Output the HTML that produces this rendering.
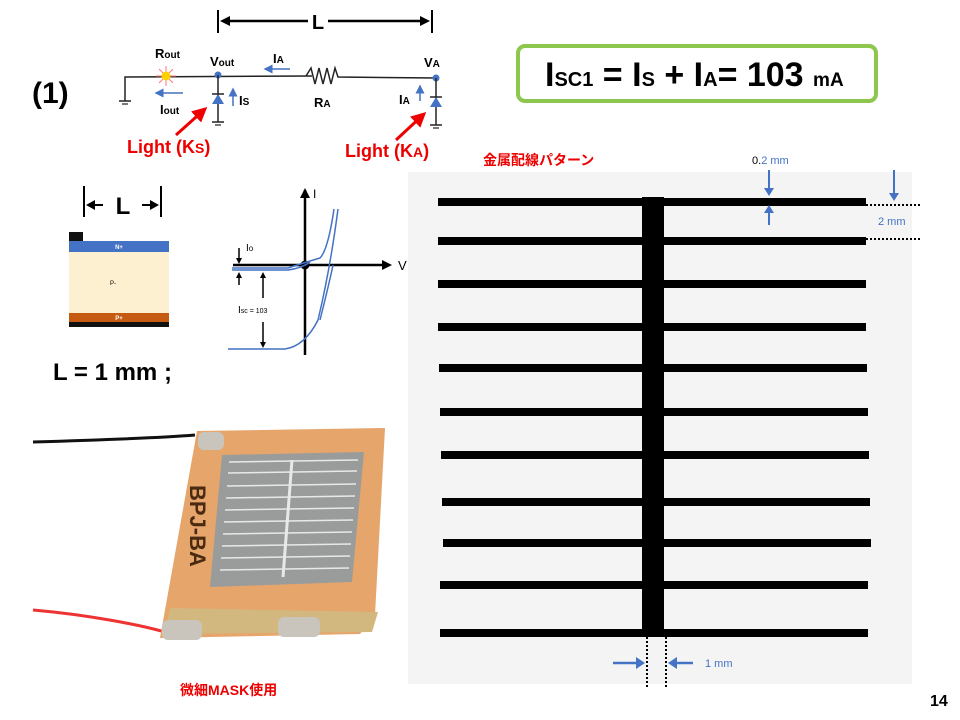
<!DOCTYPE html>
<html><head><meta charset="utf-8"><style>
html,body{margin:0;padding:0;background:#fff;}
svg{display:block;font-family:"Liberation Sans","Noto Sans CJK JP",sans-serif;}
</style></head><body>
<svg width="960" height="720" viewBox="0 0 960 720" xmlns="http://www.w3.org/2000/svg">
<defs>
<marker id="ab" markerWidth="6" markerHeight="6" refX="5" refY="3" orient="auto"><path d="M0,0 L6,3 L0,6 z" fill="#4472c4"/></marker>
<marker id="ar" markerWidth="5" markerHeight="5" refX="4" refY="2.5" orient="auto"><path d="M0,0 L5,2.5 L0,5 z" fill="#e00"/></marker>
</defs>
<!-- top L dimension -->
<line x1="218" y1="10" x2="218" y2="33" stroke="#000" stroke-width="2"/>
<line x1="432" y1="10" x2="432" y2="33" stroke="#000" stroke-width="2"/>
<line x1="226" y1="21" x2="308" y2="21" stroke="#000" stroke-width="2.5"/>
<path d="M220,21 l10,-5 v10z" fill="#000"/>
<line x1="328" y1="21" x2="425" y2="21" stroke="#000" stroke-width="2.5"/>
<path d="M430,21 l-10,-5 v10z" fill="#000"/>
<text x="318" y="29" font-size="20" font-weight="bold" text-anchor="middle">L</text>
<text x="32" y="103" font-size="30" font-weight="bold">(1)</text>
<!-- circuit -->
<polyline points="125,101 125,77 312,76" fill="none" stroke="#222" stroke-width="1.5"/>
<line x1="119" y1="101" x2="131" y2="101" stroke="#222" stroke-width="1.5"/>
<line x1="122" y1="104" x2="128" y2="104" stroke="#222" stroke-width="1.2"/>
<g stroke="#f77" stroke-width="1"><line x1="156" y1="76" x2="176" y2="76"/><line x1="166" y1="66" x2="166" y2="86"/><line x1="159" y1="69" x2="173" y2="83"/><line x1="173" y1="69" x2="159" y2="83"/></g>
<circle cx="166" cy="76" r="4.5" fill="#ffd000"/>
<text x="155" y="58" font-size="13" font-weight="bold">R<tspan font-size="10">out</tspan></text>
<text x="210" y="66" font-size="13" font-weight="bold">V<tspan font-size="10">out</tspan></text>
<circle cx="218" cy="75" r="3.5" fill="#4472c4"/>
<line x1="218" y1="75" x2="218" y2="122" stroke="#222" stroke-width="1.5"/>
<path d="M212,104 l6,-10 l6,10z" fill="#4472c4"/><line x1="212" y1="94" x2="224" y2="94" stroke="#222" stroke-width="1.5"/>
<line x1="212" y1="122" x2="224" y2="122" stroke="#222" stroke-width="1.5"/><line x1="215" y1="125" x2="221" y2="125" stroke="#222" stroke-width="1.2"/>
<line x1="183" y1="93" x2="156" y2="93" stroke="#4472c4" stroke-width="1.5" marker-end="url(#ab)"/>
<text x="160" y="114" font-size="13" font-weight="bold">I<tspan font-size="10">out</tspan></text>
<line x1="233" y1="106" x2="233" y2="89" stroke="#4472c4" stroke-width="1.5" marker-end="url(#ab)"/>
<text x="239" y="105" font-size="13" font-weight="bold">I<tspan font-size="10">S</tspan></text>
<line x1="290" y1="69" x2="265" y2="69" stroke="#4472c4" stroke-width="1.5" marker-end="url(#ab)"/>
<text x="273" y="63" font-size="13" font-weight="bold">I<tspan font-size="10">A</tspan></text>
<polyline points="306,76 311,68 315,84 319,68 323,84 327,68 331,84 335,68 338,77 436,78" fill="none" stroke="#222" stroke-width="1.5"/>
<text x="314" y="107" font-size="13" font-weight="bold">R<tspan font-size="10">A</tspan></text>
<text x="424" y="67" font-size="13" font-weight="bold">V<tspan font-size="10">A</tspan></text>
<circle cx="436" cy="78" r="3.5" fill="#4472c4"/>
<line x1="436" y1="78" x2="436" y2="125" stroke="#222" stroke-width="1.5"/>
<path d="M430,107 l6,-10 l6,10z" fill="#4472c4"/><line x1="430" y1="97" x2="442" y2="97" stroke="#222" stroke-width="1.5"/>
<line x1="430" y1="125" x2="442" y2="125" stroke="#222" stroke-width="1.5"/><line x1="433" y1="128" x2="439" y2="128" stroke="#222" stroke-width="1.2"/>
<line x1="420" y1="101" x2="420" y2="86" stroke="#4472c4" stroke-width="1.5" marker-end="url(#ab)"/>
<text x="399" y="104" font-size="13" font-weight="bold">I<tspan font-size="10">A</tspan></text>
<line x1="176" y1="135" x2="205" y2="109" stroke="#e00" stroke-width="3" marker-end="url(#ar)"/>
<line x1="396" y1="140" x2="424" y2="114" stroke="#e00" stroke-width="3" marker-end="url(#ar)"/>
<text x="127" y="153" font-size="18" font-weight="bold" fill="#e00">Light (K<tspan font-size="14">S</tspan>)</text>
<text x="345" y="157" font-size="18" font-weight="bold" fill="#e00">Light (K<tspan font-size="14">A</tspan>)</text>
<!-- equation box -->
<rect x="518" y="46" width="358" height="55" rx="7" fill="#fff" stroke="#8dc750" stroke-width="4"/>
<text x="545" y="86" font-size="34" font-weight="bold">I<tspan font-size="20">SC1</tspan> = I<tspan font-size="20">S</tspan> + I<tspan font-size="20">A</tspan>= 103 <tspan font-size="19">mA</tspan></text>
<!-- L cell -->
<line x1="84" y1="186" x2="84" y2="217" stroke="#000" stroke-width="2"/>
<line x1="161" y1="186" x2="161" y2="217" stroke="#000" stroke-width="2"/>
<path d="M86,205 l9,-5 v10z M159,205 l-9,-5 v10z" fill="#000"/>
<line x1="93" y1="205" x2="103" y2="205" stroke="#000" stroke-width="2"/>
<line x1="142" y1="205" x2="152" y2="205" stroke="#000" stroke-width="2"/>
<text x="123" y="214" font-size="24" font-weight="bold" text-anchor="middle">L</text>
<rect x="69" y="232" width="14" height="10" fill="#111"/>
<rect x="69" y="241" width="100" height="11" fill="#4472c4"/>
<rect x="69" y="252" width="100" height="61" fill="#fdf0d0"/>
<rect x="69" y="313" width="100" height="9" fill="#c55a11"/>
<rect x="69" y="322" width="100" height="5" fill="#111"/>
<text x="119" y="249" font-size="6" fill="#fff" text-anchor="middle" font-weight="bold">N+</text>
<text x="113" y="285" font-size="6" text-anchor="middle">P-</text>
<text x="119" y="320" font-size="6" fill="#fff" text-anchor="middle" font-weight="bold">P+</text>
<text x="53" y="380" font-size="24" font-weight="bold">L = 1 mm ;</text>
<!-- IV -->
<line x1="305" y1="355" x2="305" y2="190" stroke="#000" stroke-width="2.5"/>
<path d="M305,188 l-5,10 h10z" fill="#000"/>
<text x="313" y="198" font-size="12">I</text>
<line x1="233" y1="265" x2="388" y2="265" stroke="#000" stroke-width="2.5"/>
<path d="M392,265 l-10,-5 v10z" fill="#000"/>
<text x="398" y="270" font-size="13">V</text>
<circle cx="305" cy="265" r="4.5" fill="#000"/>
<path d="M232,268 H288 Q300,264 320,258 Q328,250 334,209" fill="none" stroke="#4472c4" stroke-width="1.5"/>
<path d="M232,270 H288 Q302,268 310,262" fill="none" stroke="#4472c4" stroke-width="1.5"/>
<path d="M228,349 H285 Q305,346 318,320 Q330,270 338,209" fill="none" stroke="#4472c4" stroke-width="1.5"/>
<path d="M320,320 Q330,280 333,265" fill="none" stroke="#4472c4" stroke-width="1.5"/>
<line x1="239" y1="248" x2="239" y2="262" stroke="#000" stroke-width="1.5"/><path d="M239,264 l-3,-6 h6z" fill="#000"/>
<line x1="239" y1="285" x2="239" y2="275" stroke="#000" stroke-width="1.5"/><path d="M239,272 l-3,6 h6z" fill="#000"/>
<text x="246" y="251" font-size="10">I<tspan font-size="8">o</tspan></text>
<line x1="263" y1="298" x2="263" y2="276" stroke="#000" stroke-width="1.5"/><path d="M263,272 l-3,6 h6z" fill="#000"/>
<line x1="263" y1="322" x2="263" y2="345" stroke="#000" stroke-width="1.5"/><path d="M263,348 l-3,-6 h6z" fill="#000"/>
<text x="238" y="313" font-size="10">I<tspan font-size="7">sc = 103</tspan></text>
<!-- photo -->
<path d="M33,442 C100,440 160,438 195,435" stroke="#111" stroke-width="3" fill="none"/>
<path d="M33,610 C90,615 140,625 165,632" stroke="#e33" stroke-width="3" fill="none"/>
<polygon points="197,431 385,428 375,615 360,634 160,638" fill="#e6a56b"/>
<polygon points="170,608 378,612 372,632 165,634" fill="#d2b77e"/>
<polygon points="222,455 364,452 352,582 210,587" fill="#9a9c9c"/>
<g stroke="#e8e8e8" stroke-width="1.5">
<line x1="229" y1="462" x2="358" y2="460"/><line x1="228" y1="473" x2="357" y2="471"/><line x1="227" y1="486" x2="356" y2="484"/><line x1="226" y1="498" x2="355" y2="496"/><line x1="225" y1="510" x2="354" y2="508"/><line x1="224" y1="522" x2="353" y2="520"/><line x1="223" y1="534" x2="352" y2="532"/><line x1="222" y1="546" x2="351" y2="544"/><line x1="221" y1="558" x2="350" y2="556"/><line x1="220" y1="570" x2="349" y2="568"/>
<line x1="292" y1="460" x2="283" y2="577" stroke-width="3"/></g>
<rect x="198" y="432" width="26" height="18" rx="6" fill="#c9c4bc"/>
<rect x="162" y="620" width="40" height="20" rx="6" fill="#c9c4bc"/>
<rect x="278" y="617" width="42" height="20" rx="6" fill="#c9c4bc"/>
<text transform="translate(190,485) rotate(90)" font-size="22" font-weight="bold" fill="#4a2a10">BPJ-BA</text>
<text x="180" y="695" font-size="14" font-weight="bold" fill="#e00">微細MASK使用</text>
<!-- pattern -->
<rect x="408" y="172" width="504" height="512" fill="#f4f4f4"/>
<g fill="#000">
<rect x="438" y="198" width="428" height="8"/><rect x="438" y="237" width="428" height="8"/>
<rect x="438" y="280" width="428" height="8"/><rect x="438" y="323" width="428" height="8"/>
<rect x="439" y="364" width="428" height="8"/><rect x="440" y="408" width="428" height="8"/>
<rect x="441" y="451" width="428" height="8"/><rect x="442" y="498" width="428" height="8"/>
<rect x="443" y="539" width="428" height="8"/><rect x="440" y="581" width="428" height="8"/>
<rect x="440" y="629" width="428" height="8"/>
<rect x="642" y="197" width="22" height="440"/>
</g>
<text x="483" y="165" font-size="14" font-weight="bold" fill="#e00">金属配線パターン</text>
<text x="752" y="164" font-size="11"><tspan>0.</tspan><tspan fill="#4472c4">2 mm</tspan></text>
<line x1="769" y1="170" x2="769" y2="192" stroke="#4472c4" stroke-width="2"/><path d="M769,196 l-5,-8 h10z" fill="#4472c4"/>
<line x1="769" y1="225" x2="769" y2="209" stroke="#4472c4" stroke-width="2"/><path d="M769,205 l-5,8 h10z" fill="#4472c4"/>
<line x1="894" y1="170" x2="894" y2="197" stroke="#4472c4" stroke-width="2"/><path d="M894,201 l-5,-8 h10z" fill="#4472c4"/>
<line x1="866" y1="205" x2="920" y2="205" stroke="#000" stroke-width="2" stroke-dasharray="2,2"/>
<line x1="866" y1="239" x2="920" y2="239" stroke="#000" stroke-width="2" stroke-dasharray="2,2"/>
<text x="878" y="225" font-size="11" fill="#4472c4">2 mm</text>
<line x1="647" y1="637" x2="647" y2="688" stroke="#000" stroke-width="2" stroke-dasharray="2,2"/>
<line x1="666" y1="637" x2="666" y2="688" stroke="#000" stroke-width="2" stroke-dasharray="2,2"/>
<line x1="613" y1="663" x2="637" y2="663" stroke="#4472c4" stroke-width="2.5"/><path d="M645,663 l-9,-6 v12z" fill="#4472c4"/>
<line x1="693" y1="663" x2="676" y2="663" stroke="#4472c4" stroke-width="2.5"/><path d="M668,663 l9,-6 v12z" fill="#4472c4"/>
<text x="705" y="667" font-size="11" fill="#4472c4">1 mm</text>
<text x="930" y="706" font-size="16" font-weight="bold">14</text>
</svg>
</body></html>
